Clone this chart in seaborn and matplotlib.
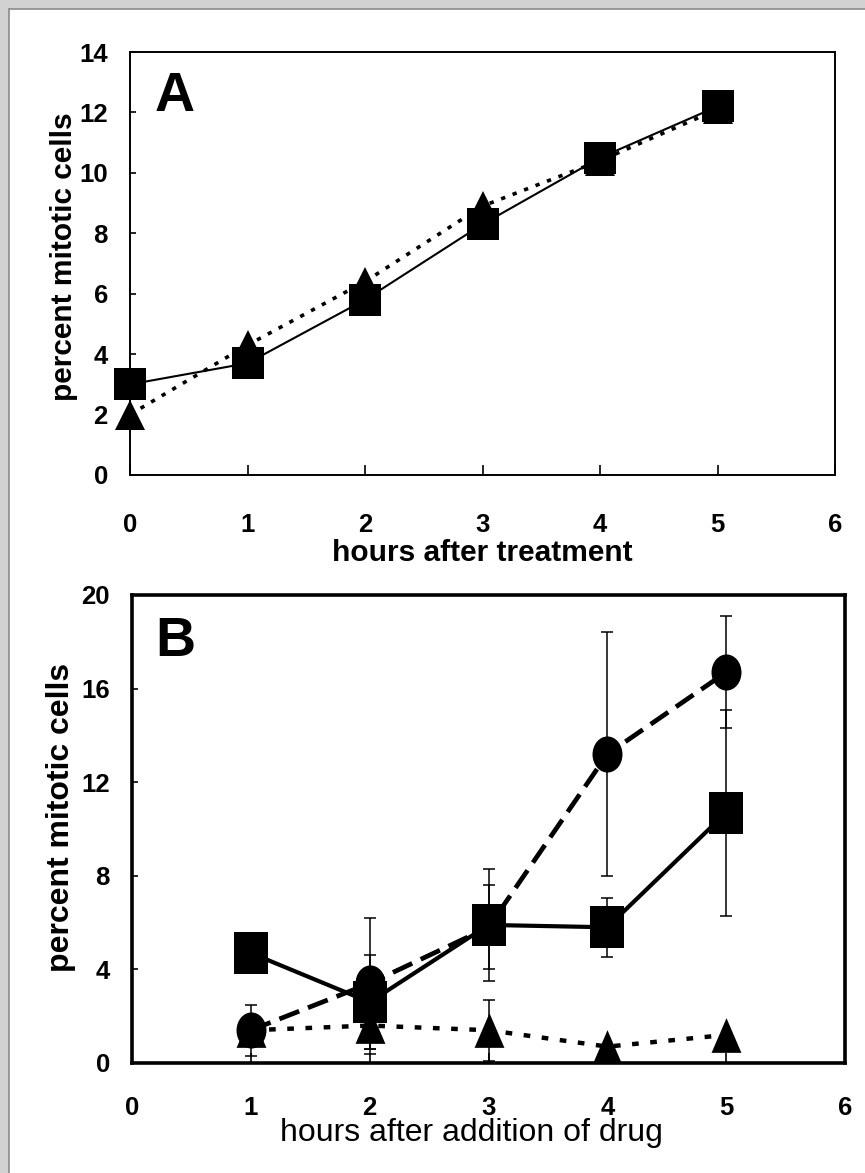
import matplotlib
matplotlib.use("Agg")
import numpy as np
import matplotlib.pyplot as plt
import seaborn as sns
from matplotlib.patches import Rectangle
from matplotlib.lines import Line2D
from matplotlib.markers import MarkerStyle
from matplotlib.path import Path

# panel A: hours after treatment
hours_a = [0, 1, 2, 3, 4, 5]
squares_a = [3.0, 3.7, 5.8, 8.3, 10.5, 12.2]
triangles_a = [2.0, 4.3, 6.4, 8.9, 10.4, 12.1]

# panel B: hours after addition of drug
hours_b = [1, 2, 3, 4, 5]
squares_b = [4.7, 2.6, 5.9, 5.8, 10.7]
squares_b_err = [0.0, 2.0, 2.4, 1.25, 4.4]
circles_b = [1.4, 3.4, 5.8, 13.2, 16.7]
circles_b_err = [1.1, 2.8, 1.8, 5.2, 2.4]
triangles_b = [1.4, 1.6, 1.4, 0.7, 1.2]
triangles_b_err = [0.0, 1.2, 1.3, 0.0, 0.0]

sns.set_style("ticks")
plt.rcParams["font.family"] = ["Liberation Sans", "DejaVu Sans"]
plt.rcParams.update({"text.color": "black", "axes.labelcolor": "black",
                     "xtick.color": "black", "ytick.color": "black",
                     "axes.edgecolor": "black"})

# the B panel symbols are a bit taller than wide
tall_square = [(-0.41, -0.5), (0.41, -0.5), (0.41, 0.5), (-0.41, 0.5)]
tall_tri = [(-0.43, -0.5), (0.43, -0.5), (0.0, 0.5)]
circ = Path.unit_circle()
tall_circle = MarkerStyle(Path(circ.vertices * np.array([0.83, 1.0]), circ.codes))

fig = plt.figure(figsize=(8.65, 11.73), dpi=100)

# grey shadow frame on top and left edges
fig.patches.append(Rectangle((0, 0), 1, 1, transform=fig.transFigure,
                             color="#d2d2d2", zorder=-10))
fig.patches.append(Rectangle((9 / 865, 0), 1, 1 - 9 / 1173,
                             transform=fig.transFigure, color="white", zorder=-9))
fig.lines.append(Line2D([9 / 865, 9 / 865], [0, 1 - 9 / 1173],
                        transform=fig.transFigure, color="#8a8a8a", lw=1.2))
fig.lines.append(Line2D([9 / 865, 1], [1 - 9 / 1173, 1 - 9 / 1173],
                        transform=fig.transFigure, color="#8a8a8a", lw=1.2))

ax_a = fig.add_axes([130 / 865, 1 - 475 / 1173, 705 / 865, 423 / 1173])
ax_b = fig.add_axes([132 / 865, 1 - 1063 / 1173, 713 / 865, 468 / 1173])

# --- panel A ---
sns.lineplot(x=hours_a, y=triangles_a, ax=ax_a, color="black", linestyle=(0, (1.2, 2.2)),
             lw=2.6, marker="^", markersize=21, markeredgewidth=0, zorder=3, clip_on=False)
sns.lineplot(x=hours_a, y=squares_a, ax=ax_a, color="black", linestyle="-",
             lw=1.5, marker="s", markersize=23, markeredgewidth=0, zorder=4, clip_on=False)
ax_a.set_xlim(0, 6)
ax_a.set_ylim(0, 14)
ax_a.set_xticks(range(0, 7))
ax_a.set_yticks(range(0, 15, 2))
ax_a.tick_params(axis="x", direction="in", length=7, width=1.2, pad=27, labelsize=18.5)
ax_a.tick_params(axis="y", direction="in", length=4, width=1.2, pad=16, labelsize=18.5)
for lbl in ax_a.get_xticklabels() + ax_a.get_yticklabels():
    lbl.set_fontweight("bold")
for sp in ax_a.spines.values():
    sp.set_visible(True)
    sp.set_linewidth(1.4)
ax_a.set_xlabel("hours after treatment", fontsize=21.5, fontweight="bold")
ax_a.set_ylabel("percent mitotic cells", fontsize=21.5, fontweight="bold")
ax_a.xaxis.set_label_coords(0.5, -0.151)
ax_a.yaxis.set_label_coords(-0.074, 0.515)
ax_a.text(0.035, 0.955, "A", transform=ax_a.transAxes, fontsize=40,
          fontweight="bold", va="top", ha="left")

# --- panel B ---
for vals, errs in [(circles_b, circles_b_err), (squares_b, squares_b_err),
                   (triangles_b, triangles_b_err)]:
    ax_b.errorbar(hours_b, vals, yerr=errs, fmt="none", ecolor="black",
                  elinewidth=1.1, capsize=4.5, capthick=1.1, zorder=2)
sns.lineplot(x=hours_b, y=triangles_b, ax=ax_b, color="black", linestyle=(0, (1.5, 2.6)),
             lw=3.2, marker=tall_tri, markersize=25, markeredgewidth=0, zorder=3)
sns.lineplot(x=hours_b, y=circles_b, ax=ax_b, color="black", linestyle=(0, (4.5, 2.0)),
             lw=3.4, marker=tall_circle, markersize=26, markeredgewidth=0, zorder=4)
sns.lineplot(x=hours_b, y=squares_b, ax=ax_b, color="black", linestyle="-",
             lw=3.0, marker=tall_square, markersize=30, markeredgewidth=0, zorder=5)
ax_b.set_xlim(0, 6)
ax_b.set_ylim(0, 20)
ax_b.set_xticks(range(0, 7))
ax_b.set_yticks(range(0, 21, 4))
ax_b.tick_params(axis="x", direction="in", length=7, width=1.2, pad=24, labelsize=18.5)
ax_b.tick_params(axis="y", direction="in", length=4, width=1.2, pad=16, labelsize=18.5)
for lbl in ax_b.get_xticklabels() + ax_b.get_yticklabels():
    lbl.set_fontweight("bold")
for sp in ax_b.spines.values():
    sp.set_visible(True)
    sp.set_linewidth(2.6)
ax_b.set_xlabel("hours after addition of drug", fontsize=23)
ax_b.set_ylabel("percent mitotic cells", fontsize=23, fontweight="bold")
ax_b.xaxis.set_label_coords(0.476, -0.118)
ax_b.yaxis.set_label_coords(-0.079, 0.525)
ax_b.text(0.033, 0.955, "B", transform=ax_b.transAxes, fontsize=40,
          fontweight="bold", va="top", ha="left")

fig.savefig("out.png", dpi=100)
